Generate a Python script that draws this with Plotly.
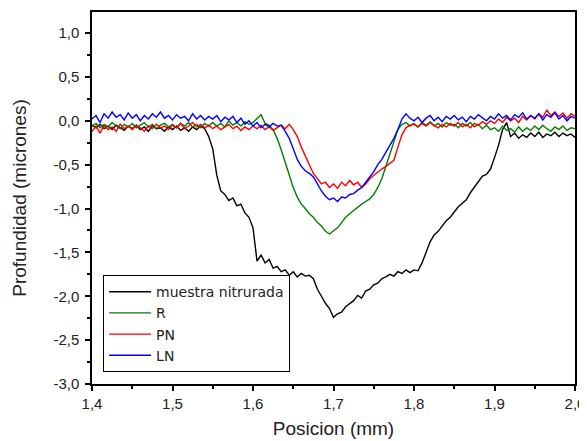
import plotly.graph_objects as go

# sample positions (mm)
posicion = [
    1.400, 1.405, 1.410, 1.415, 1.420, 1.425, 1.430, 1.435, 1.440, 1.445,
    1.450, 1.455, 1.460, 1.465, 1.470, 1.475, 1.480, 1.485, 1.490, 1.495,
    1.500, 1.505, 1.510, 1.515, 1.520, 1.525, 1.530, 1.535, 1.540, 1.545,
    1.550, 1.555, 1.560, 1.565, 1.570, 1.575, 1.580, 1.585, 1.590, 1.595,
    1.600, 1.605, 1.610, 1.615, 1.620, 1.625, 1.630, 1.635, 1.640, 1.645,
    1.650, 1.655, 1.660, 1.665, 1.670, 1.675, 1.680, 1.685, 1.690, 1.695,
    1.700, 1.705, 1.710, 1.715, 1.720, 1.725, 1.730, 1.735, 1.740, 1.745,
    1.750, 1.755, 1.760, 1.765, 1.770, 1.775, 1.780, 1.785, 1.790, 1.795,
    1.800, 1.805, 1.810, 1.815, 1.820, 1.825, 1.830, 1.835, 1.840, 1.845,
    1.850, 1.855, 1.860, 1.865, 1.870, 1.875, 1.880, 1.885, 1.890, 1.895,
    1.900, 1.905, 1.910, 1.915, 1.920, 1.925, 1.930, 1.935, 1.940, 1.945,
    1.950, 1.955, 1.960, 1.965, 1.970, 1.975, 1.980, 1.985, 1.990, 1.995,
    2.000,
]

muestra_nitrurada = [
    -0.05, -0.08, -0.04, -0.09, -0.06, -0.10, -0.05, -0.08, -0.11, -0.06,
    -0.09, -0.05, -0.10, -0.07, -0.12, -0.06, -0.09, -0.08, -0.12, -0.07,
    -0.10, -0.06, -0.11, -0.08, -0.12, -0.07, -0.10, -0.06, -0.09, -0.18,
    -0.32, -0.62, -0.80, -0.84, -0.91, -0.88, -0.97, -0.95, -1.05, -1.10,
    -1.22, -1.60, -1.53, -1.62, -1.58, -1.68, -1.66, -1.72, -1.70, -1.76,
    -1.72, -1.78, -1.74, -1.77, -1.76, -1.80, -1.92, -2.00, -2.08, -2.14,
    -2.24, -2.20, -2.18, -2.12, -2.09, -2.05, -1.99, -2.02, -1.94, -1.92,
    -1.87, -1.85, -1.80, -1.78, -1.75, -1.77, -1.72, -1.74, -1.70, -1.73,
    -1.70, -1.71, -1.62, -1.50, -1.38, -1.30, -1.26, -1.20, -1.14, -1.10,
    -1.04, -0.98, -0.94, -0.90, -0.82, -0.76, -0.70, -0.63, -0.61, -0.55,
    -0.42, -0.28, -0.10, -0.02, -0.18, -0.14, -0.20, -0.16, -0.19, -0.14,
    -0.18, -0.13, -0.19, -0.15, -0.17, -0.13, -0.18, -0.14, -0.17, -0.15,
    -0.19,
]

serie_R = [
    -0.06, -0.03, -0.08, -0.04, -0.07, -0.02, -0.06, -0.09, -0.04, -0.07,
    -0.03, -0.08, -0.05, -0.02, -0.07, -0.04, -0.09, -0.05, -0.03, -0.07,
    -0.04, -0.08, -0.03, -0.06, -0.02, -0.07, -0.04, -0.08, -0.03, -0.06,
    -0.02, -0.06, -0.03, -0.07, 0.00, -0.05, -0.02, -0.06, -0.01, -0.04,
    -0.02, 0.02, 0.07, -0.03, -0.05, -0.10, -0.20, -0.33, -0.48, -0.62,
    -0.76, -0.87, -0.95, -1.00, -1.06, -1.10, -1.16, -1.20, -1.26, -1.29,
    -1.25, -1.22, -1.16, -1.10, -1.06, -1.02, -0.99, -0.95, -0.92, -0.89,
    -0.84, -0.76, -0.66, -0.52, -0.38, -0.22, -0.10, -0.04, -0.02, -0.06,
    -0.03, -0.07, -0.02, -0.05, -0.01, -0.06, -0.03, -0.07, -0.02, -0.05,
    -0.04, -0.08, -0.03, -0.06, -0.02, -0.07, -0.04, -0.09, -0.05, -0.10,
    -0.08, -0.12, -0.06, -0.11, -0.09, -0.13, -0.07, -0.12, -0.08, -0.11,
    -0.06, -0.10, -0.05, -0.09, -0.12, -0.07, -0.10, -0.06, -0.11, -0.08,
    -0.09,
]

serie_PN = [
    -0.12, -0.06, -0.14, -0.05, -0.10, -0.07, -0.12, -0.04, -0.09, -0.06,
    -0.10, -0.05, -0.08, -0.12, -0.06, -0.09, -0.04, -0.08, -0.06, -0.10,
    -0.05, -0.08, -0.03, -0.09, -0.06, -0.02, -0.07, -0.04, -0.08, -0.05,
    -0.09, -0.06, -0.10, -0.07, -0.04, -0.09, -0.06, -0.11, -0.07, -0.10,
    -0.06, -0.09, -0.05, -0.10, -0.07, -0.11, -0.08, -0.05, -0.09, -0.04,
    -0.10, -0.18, -0.30, -0.40, -0.52, -0.60, -0.66, -0.72, -0.70, -0.76,
    -0.72, -0.77, -0.70, -0.74, -0.68, -0.73, -0.70, -0.76, -0.72, -0.66,
    -0.62, -0.58, -0.55, -0.52, -0.48, -0.45, -0.30, -0.16, -0.08, -0.05,
    -0.04, -0.07, -0.03, -0.06, -0.02, -0.05, -0.08, -0.04, -0.07, -0.03,
    -0.06, -0.02, -0.07, -0.04, -0.08, -0.03, -0.05, -0.01, -0.04, 0.00,
    -0.03, 0.02, -0.02, 0.04, 0.00, 0.03, -0.02, 0.05, 0.01, 0.06,
    0.02, 0.08, 0.04, 0.12, 0.06, 0.10, 0.05, 0.09, 0.03, 0.08,
    0.05,
]

serie_LN = [
    0.02, 0.06, -0.02, 0.08, 0.03, 0.10, 0.04, 0.07, 0.01, 0.09,
    0.03, 0.07, 0.00, 0.06, 0.02, 0.08, 0.04, 0.10, 0.03, 0.06,
    0.01, 0.07, 0.03, 0.05, 0.00, 0.08, 0.02, 0.06, 0.01, 0.05,
    0.02, 0.06, -0.01, 0.04, 0.01, 0.05, -0.02, 0.03, -0.04, 0.00,
    -0.06, -0.02, -0.08, -0.04, -0.07, -0.03, -0.06, -0.05, -0.12, -0.20,
    -0.32, -0.44, -0.52, -0.57, -0.60, -0.64, -0.72, -0.80, -0.86, -0.90,
    -0.88, -0.92, -0.87, -0.88, -0.84, -0.83, -0.79, -0.76, -0.70, -0.64,
    -0.58, -0.50, -0.44, -0.36, -0.28, -0.20, -0.10, 0.02, 0.08, 0.03,
    0.00, 0.04, -0.02, 0.03, 0.06, 0.00, 0.04, -0.01, 0.05, 0.02,
    0.06, 0.01, 0.04, -0.01, 0.05, 0.02, 0.07, 0.03, 0.00, 0.05,
    0.02, 0.08, 0.03, 0.06, 0.01, 0.07, 0.04, 0.09, 0.02, 0.06,
    0.03, 0.08, 0.01, 0.07, 0.04, 0.09, 0.02, 0.06, 0.00, 0.05,
    0.03,
]

x_tickvals = [1.4, 1.5, 1.6, 1.7, 1.8, 1.9, 2.0]
x_ticktext = ["1,4", "1,5", "1,6", "1,7", "1,8", "1,9", "2,0"]
y_tickvals = [-3.0, -2.5, -2.0, -1.5, -1.0, -0.5, 0.0, 0.5, 1.0]
y_ticktext = ["-3,0", "-2,5", "-2,0", "-1,5", "-1,0", "-0,5", "0,0", "0,5", "1,0"]

series = [
    ("muestra nitrurada", muestra_nitrurada, "#000000"),
    ("R", serie_R, "#008000"),
    ("PN", serie_PN, "#ff0000"),
    ("LN", serie_LN, "#0000ff"),
]

FONT = "Liberation Sans, Arial, sans-serif"
LEGEND_FONT = "DejaVu Sans, Liberation Sans, Arial, sans-serif"

fig = go.Figure()
for name, vals, color in series:
    fig.add_trace(go.Scatter(x=posicion, y=vals, mode="lines", name=name,
                             line=dict(color=color, width=1.4)))

axis_common = dict(
    showgrid=False, zeroline=False, showline=True, linecolor="black",
    linewidth=1.5, mirror=True, ticks="outside", ticklen=5, tickwidth=1.5,
    tickcolor="black", tickfont=dict(family=FONT, size=15, color="#222"),
)

fig.update_xaxes(
    range=[1.4, 2.0], tickmode="array", tickvals=x_tickvals, ticktext=x_ticktext,
    minor=dict(ticks="outside", dtick=0.05, tick0=1.4, ticklen=3, tickwidth=1.5,
               tickcolor="black", showgrid=False),
    title=dict(text="Posicion (mm)", font=dict(family=FONT, size=19, color="#222"),
               standoff=11),
    **axis_common,
)
fig.update_yaxes(
    range=[-3.0, 1.24], tickmode="array", tickvals=y_tickvals, ticktext=y_ticktext,
    minor=dict(ticks="outside", dtick=0.25, tick0=-3.0, ticklen=3, tickwidth=1.5,
               tickcolor="black", showgrid=False),
    title=dict(text="Profundidad (micrones)", font=dict(family=FONT, size=19, color="#222"),
               standoff=22),
    ticklabelstandoff=3,
    **axis_common,
)

# the page body adds an 8px offset, so the figure is sized/margined to compensate
fig.update_layout(
    width=579, height=433,
    margin=dict(l=84, r=12, t=4, b=57, autoexpand=False),
    plot_bgcolor="white", paper_bgcolor="white",
    font=dict(family=FONT, color="#222"),
    legend=dict(
        x=0.023, y=0.032, xanchor="left", yanchor="bottom",
        bgcolor="white", bordercolor="black", borderwidth=1,
        font=dict(family=LEGEND_FONT, size=14, color="#222"),
        tracegroupgap=0, itemwidth=42,
    ),
    showlegend=True,
)

fig.write_html("out.html")
